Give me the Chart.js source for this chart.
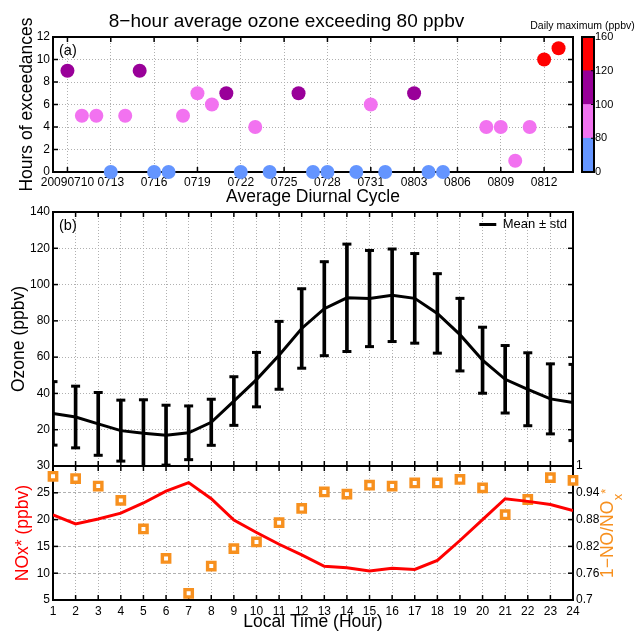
<!DOCTYPE html>
<html><head><meta charset="utf-8">
<script src="https://cdn.jsdelivr.net/npm/chart.js@4.4.1/dist/chart.umd.min.js"></script>
<style>
html,body{margin:0;padding:0;background:#fff;width:636px;height:631px;overflow:hidden}
canvas{position:absolute;left:0;top:0}
</style></head><body>
<canvas id="cA" width="626" height="631"></canvas>
<canvas id="cBar" width="636" height="631"></canvas>
<canvas id="cB" width="636" height="631"></canvas>
<canvas id="cC" width="636" height="631"></canvas>
<script>
// ---------- Panel (a): exceedance days ----------
const dayIndex    = [0,1,2,3,4,5,6,7,8,9,10,11,12,13,14,16,17,18,20,21,22,24,25,26,29,30,31,32,33,34];
const exceedHours = [9,5,5,0,5,9,0,0,5,7,6,7,0,4,0,7,0,0,0,6,0,7,0,0,4,4,1,4,10,11];
const dailyMaxBin = [2,1,1,0,1,2,0,0,1,1,1,2,0,1,0,2,0,0,0,1,0,2,0,0,1,1,1,1,3,3];
const dateTickDays   = [0,3,6,9,12,15,18,21,24,27,30,33];
const dateTickLabels = ['20090710','0713','0716','0719','0722','0725','0728','0731','0803','0806','0809','0812'];
// colour bar (daily maximum, ppbv)
const cbEdges  = [0,80,100,120,160];
const cbColors = ['#6495ff','#f272f0','#990099','#ff0000'];

// ---------- Panel (b): ozone diurnal cycle ----------
const hourLabels = ['1','2','3','4','5','6','7','8','9','10','11','12','13','14','15','16','17','18','19','20','21','22','23','24'];
const ozoneMean = [29,27,23.2,19.5,18,17,18.3,24.1,35.8,47.6,61,75.8,86.7,92.7,92.3,94.1,92.4,84.1,72.4,58.3,47.8,42.3,37,35];
const ozoneStd  = [17.5,17,17.3,16.8,18.5,16.5,14.8,12.7,13.4,15,18.7,21.9,25.9,29.6,26.5,25.5,24.7,21.9,20,18.2,18.6,20.1,19.3,21];

// ---------- Panel (c): NOx* and 1-NO/NOx* ----------
const noxStar = [20.9,19.2,20.1,21.2,23.1,25.3,26.9,23.9,19.9,17.6,15.4,13.4,11.3,11.0,10.4,10.9,10.7,12.4,16.1,20.0,23.9,23.4,22.8,21.7];
const oxRatio = [0.977,0.972,0.955,0.923,0.859,0.793,0.715,0.776,0.815,0.830,0.873,0.905,0.942,0.937,0.957,0.955,0.962,0.962,0.970,0.951,0.891,0.925,0.974,0.968];
const ratioTicks = [0.7,0.76,0.82,0.88,0.94,1];
const ratioTickLabels = ['0.7','0.76','0.82','0.88','0.94','1'];

const FONT = "'Liberation Sans', Arial, Helvetica, sans-serif";
Chart.defaults.font.family = FONT;
Chart.defaults.font.size = 12;
Chart.defaults.color = '#000';
const GRID = '#b0b0b0';
const ORANGE = '#f7901e';

// MATLAB-like box with inward ticks + simple annotations
function drawBox(chart, opts) {
  const {ctx, chartArea: a} = chart;
  ctx.save();
  ctx.strokeStyle = '#000';
  ctx.lineWidth = opts.tickWidth || 1.5;
  const L = opts.tickLen || 5;
  (opts.ticks || []).forEach(t => {
    const s = chart.scales[t.id];
    s.ticks.forEach((tk, i) => {
      const p = s.getPixelForTick(i);
      t.edges.forEach(e => {
        ctx.beginPath();
        if (e === 'left') { ctx.moveTo(a.left, p); ctx.lineTo(a.left + L, p); }
        else if (e === 'right') { ctx.moveTo(a.right, p); ctx.lineTo(a.right - L, p); }
        else if (e === 'bottom') { ctx.moveTo(p, a.bottom); ctx.lineTo(p, a.bottom - L); }
        else { ctx.moveTo(p, a.top); ctx.lineTo(p, a.top + L); }
        ctx.stroke();
      });
    });
  });
  ctx.lineWidth = opts.boxWidth || 2;
  ctx.strokeRect(a.left, a.top, a.right - a.left, a.bottom - a.top);
  (opts.texts || []).forEach(tx => {
    ctx.font = tx.size + 'px ' + FONT;
    ctx.fillStyle = tx.color || '#000';
    ctx.textAlign = tx.align || 'left';
    ctx.textBaseline = 'middle';
    ctx.fillText(tx.text, a.left + tx.dx, a.top + tx.dy);
  });
  ctx.restore();
}
const boxPlugin = {
  id: 'mbox',
  beforeDatasetsDraw(chart, args, opts) { if (!opts.onTop) drawBox(chart, opts); },
  afterDraw(chart, args, opts) { if (opts.onTop) drawBox(chart, opts); }
};

const base = { responsive: false, animation: false, devicePixelRatio: 1, events: [] };

// ---------- Chart A ----------
new Chart(document.getElementById('cA'), {
  type: 'scatter',
  data: { datasets: [{
    data: dayIndex.map((d, i) => ({x: d, y: exceedHours[i]})),
    pointRadius: 7, pointHoverRadius: 7, pointBorderWidth: 0,
    pointBackgroundColor: dailyMaxBin.map(b => cbColors[b]), clip: false
  }]},
  options: Object.assign({}, base, {
    layout: { padding: { left: 0, top: 0, right: 53, bottom: 423 } },
    plugins: {
      legend: { display: false }, tooltip: { enabled: false },
      title: { display: true, text: '8−hour average ozone exceeding 80 ppbv', color: '#000',
               font: { size: 19, weight: 'normal' }, padding: { top: 10, bottom: 4.2 } },
      mbox: { ticks: [{id: 'x', edges: ['top','bottom']}, {id: 'y', edges: ['left','right']}],
              texts: [{text: '(a)', dx: 6, dy: 14, size: 14.5}] }
    },
    scales: {
      x: { type: 'linear', min: -1, max: 35,
           afterBuildTicks: s => { s.ticks = dateTickDays.map(v => ({value: v})); },
           ticks: { callback: v => dateTickLabels[dateTickDays.indexOf(v)], autoSkip: false, maxRotation: 0, padding: 3, font: {size: 12} },
           grid: { color: GRID, drawTicks: false }, border: { display: false, dash: [1, 2] },
           title: { display: true, text: 'Average Diurnal Cycle', font: {size: 17.5}, padding: {top: 0, bottom: 0} },
           afterFit: s => { s.height = 36; } },
      y: { min: 0, max: 12, ticks: { stepSize: 2, padding: 3, font: {size: 12} },
           grid: { color: GRID, drawTicks: false }, border: { display: false, dash: [1, 2] },
           title: { display: true, text: 'Hours of exceedances', font: {size: 17.5}, padding: {top: 16.5, bottom: 0} },
           afterFit: s => { s.width = 53; } }
    }
  }),
  plugins: [boxPlugin]
});

// ---------- Colour bar ----------
new Chart(document.getElementById('cBar'), {
  type: 'bar',
  data: { labels: [''], datasets: cbColors.map(c => ({ data: [1], backgroundColor: c, borderWidth: 0, barPercentage: 1, categoryPercentage: 1 })) },
  options: Object.assign({}, base, {
    layout: { padding: { left: 582, top: 37, right: 0, bottom: 459 } },
    plugins: { legend: { display: false }, tooltip: { enabled: false },
      mbox: { onTop: true, ticks: [{id: 'y', edges: ['right']}], tickLen: 3, tickWidth: 1,
              texts: [{text: 'Daily maximum (ppbv)', dx: 0.5, dy: -11, size: 10.5, align: 'center'}] } },
    scales: {
      x: { stacked: true, display: false },
      y: { stacked: true, position: 'right', min: 0, max: cbColors.length,
           afterBuildTicks: s => { s.ticks = cbEdges.map((v, i) => ({value: i})); },
           ticks: { callback: v => String(cbEdges[v]), padding: 1, font: {size: 11} },
           grid: { display: false, drawTicks: false }, border: { display: false },
           afterFit: s => { s.width = 42; } }
    }
  }),
  plugins: [boxPlugin]
});

// ---------- Chart B ----------
const legendToRight = {
  id: 'legendRight',
  afterLayout(chart) {
    const lg = chart.legend, a = chart.chartArea;
    if (!lg) return;
    const ctx = chart.ctx;
    ctx.save(); ctx.font = '13px ' + FONT;
    const tw = ctx.measureText('Mean ± std').width;
    ctx.restore();
    const itemW = 17 + 6.5 + tw;
    const pad = lg.options.labels.padding;
    const w = lg.right - lg.left, h = lg.bottom - lg.top;
    lg.left = a.right - 6 - itemW - pad;
    lg.right = lg.left + w;
    lg.top = a.top;
    lg.bottom = a.top + h;
  }
};

new Chart(document.getElementById('cB'), {
  type: 'bar',
  data: { labels: hourLabels, datasets: [
    { type: 'line', label: 'Mean ± std', data: ozoneMean, borderColor: '#000', borderWidth: 3, pointRadius: 0, tension: 0, clip: 0 },
    { type: 'bar', data: ozoneMean.map((m, i) => [m - ozoneStd[i], m + ozoneStd[i]]), backgroundColor: '#000', barThickness: 3, clip: 0 },
    { type: 'line', data: ozoneMean.map((m, i) => m + ozoneStd[i]), showLine: false, pointStyle: 'line', pointRadius: 4.5, pointBorderWidth: 3, pointBorderColor: '#000', clip: 0 },
    { type: 'line', data: ozoneMean.map((m, i) => m - ozoneStd[i]), showLine: false, pointStyle: 'line', pointRadius: 4.5, pointBorderWidth: 3, pointBorderColor: '#000', clip: 0 }
  ]},
  options: Object.assign({}, base, {
    layout: { padding: { left: 0, top: 212, right: 63, bottom: 165 } },
    plugins: { tooltip: { enabled: false },
      legend: { display: true, position: 'chartArea', align: 'start',
        labels: { usePointStyle: true, pointStyleWidth: 17, padding: 6, font: {size: 13}, color: '#000',
          generateLabels: () => [{ text: 'Mean ± std', fillStyle: '#000', strokeStyle: '#000', lineWidth: 3, pointStyle: 'line', hidden: false, datasetIndex: 0, fontColor: '#000' }] } },
      mbox: { ticks: [{id: 'x', edges: ['top','bottom']}, {id: 'y', edges: ['left','right']}],
              texts: [{text: '(b)', dx: 6, dy: 14, size: 14.5}] } },
    scales: {
      x: { type: 'category', offset: false, ticks: { display: false },
           grid: { color: GRID, drawTicks: false, offset: false }, border: { display: false, dash: [1, 2] },
           afterFit: s => { s.height = 0; } },
      y: { min: 0, max: 140, ticks: { stepSize: 20, padding: 3, font: {size: 12}, callback: v => v === 0 ? '' : v },
           grid: { color: GRID, drawTicks: false }, border: { display: false, dash: [1, 2] },
           title: { display: true, text: 'Ozone (ppbv)', font: {size: 17.5}, padding: {top: 9, bottom: 0} },
           afterFit: s => { s.width = 53; } }
    }
  }),
  plugins: [boxPlugin, legendToRight]
});

// ---------- Chart C ----------
const rightLabel = {
  id: 'rlabel',
  afterDraw(chart) {
    const {ctx, chartArea: a} = chart;
    ctx.save();
    ctx.fillStyle = ORANGE;
    ctx.translate(a.right + 35, a.bottom - 22);
    ctx.rotate(-Math.PI / 2);
    ctx.textAlign = 'left'; ctx.textBaseline = 'middle';
    ctx.font = '17.5px ' + FONT;
    const main = '1−NO/NO';
    ctx.fillText(main, 0, 0);
    const w = ctx.measureText(main).width;
    ctx.font = '13px ' + FONT;
    ctx.fillText('x', w + 0.5, 10.5);
    ctx.fillText('*', w + 0.5 + ctx.measureText('x').width, -2);
    ctx.restore();
  }
};

new Chart(document.getElementById('cC'), {
  type: 'line',
  data: { labels: hourLabels, datasets: [
    { data: noxStar, yAxisID: 'y', borderColor: '#ff0000', borderWidth: 3, pointRadius: 0, tension: 0, clip: 0 },
    { data: oxRatio, yAxisID: 'y1', showLine: false, pointStyle: 'rect', pointRadius: 5.2,
      pointBackgroundColor: '#ffffff', pointBorderColor: ORANGE, pointBorderWidth: 3.4, clip: false }
  ]},
  options: Object.assign({}, base, {
    layout: { padding: { left: 0, top: 466, right: 0, bottom: 0 } },
    plugins: { legend: { display: false }, tooltip: { enabled: false },
      mbox: { ticks: [{id: 'x', edges: ['top','bottom']}, {id: 'y', edges: ['left']}, {id: 'y1', edges: ['right']}] } },
    scales: {
      x: { offset: false, ticks: { autoSkip: false, maxRotation: 0, padding: 4, font: {size: 12} },
           grid: { color: GRID, drawTicks: false }, border: { display: false, dash: [1, 2] },
           title: { display: true, text: 'Local Time (Hour)', font: {size: 17.5}, padding: {top: 0, bottom: -2} },
           afterFit: s => { s.height = 31; } },
      y: { position: 'left', min: 5, max: 30, ticks: { stepSize: 5, padding: 3, font: {size: 12} },
           grid: { color: GRID, drawTicks: false }, border: { display: false, dash: [3, 2] },
           title: { display: true, text: 'NOx* (ppbv)', color: '#ff0000', font: {size: 17.5}, padding: {top: 13, bottom: 0} },
           afterFit: s => { s.width = 53; } },
      y1: { position: 'right', min: 0.7, max: 1,
            afterBuildTicks: s => { s.ticks = ratioTicks.map(v => ({value: v})); },
            ticks: { padding: 3, font: {size: 12}, callback: v => ratioTickLabels[ratioTicks.findIndex(t => Math.abs(t - v) < 1e-6)] },
            grid: { display: false, drawTicks: false }, border: { display: false },
            afterFit: s => { s.width = 63; } }
    }
  }),
  plugins: [boxPlugin, rightLabel]
});
</script>
</body></html>
